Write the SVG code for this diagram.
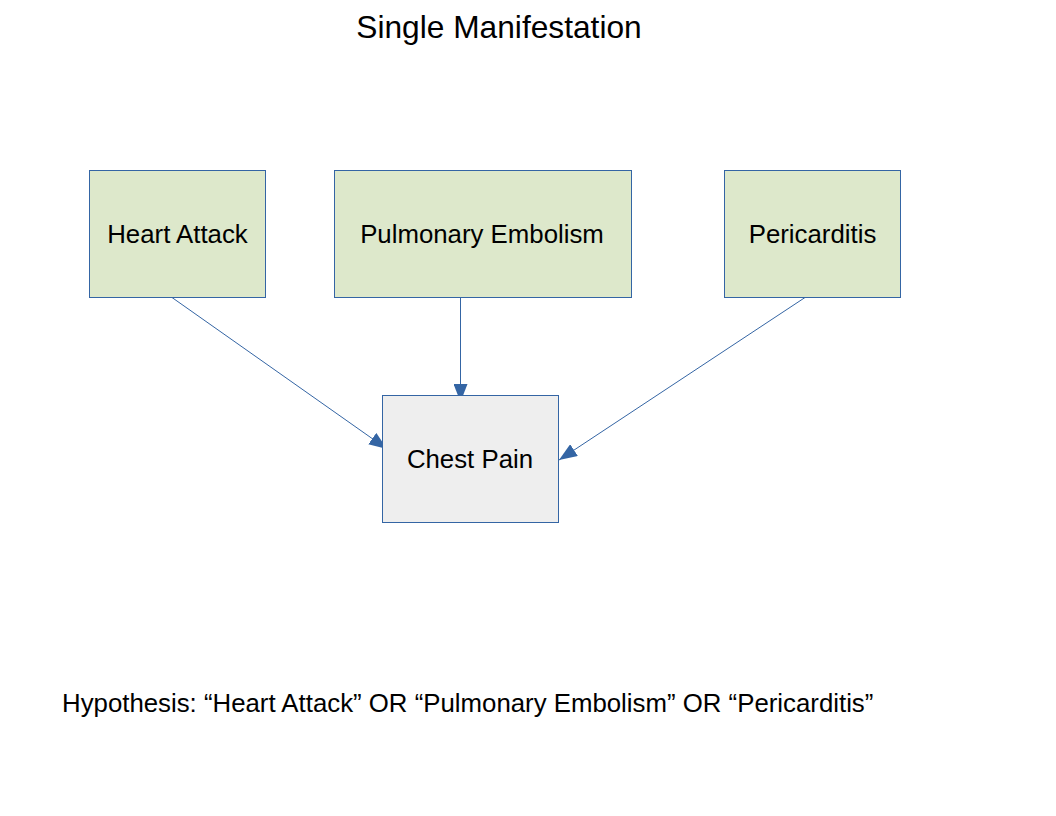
<svg xmlns="http://www.w3.org/2000/svg" width="1056" height="816" viewBox="0 0 1056 816">
<style>
text { font-family: "Liberation Sans", Arial, sans-serif; fill: #000; }
.node { stroke: #3465a4; stroke-width: 1; }
.cause { fill: #dde8cb; }
.effect { fill: #eeeeee; }
.lbl { font-size: 25.8px; text-anchor: middle; }
.conn { stroke: #3465a4; stroke-width: 1; fill: none; marker-end: url(#arr); }
</style>
<defs>
<marker id="arr" markerUnits="userSpaceOnUse" markerWidth="19" markerHeight="14" refX="18" refY="7" orient="auto">
<path d="M0,0 L18,7 L0,14 Z" fill="#3465a4"/>
</marker>
</defs>
<rect width="1056" height="816" fill="#ffffff"/>
<text x="499" y="38" font-size="31.7" text-anchor="middle">Single Manifestation</text>
<g id="connectors">
<line class="conn" x1="172" y1="297.5" x2="387" y2="449"/>
<line class="conn" x1="460.5" y1="297.5" x2="460.5" y2="402"/>
<line class="conn" x1="805" y1="297.5" x2="559" y2="460"/>
</g>
<g id="heart-attack">
<rect class="node cause" x="89.5" y="170.5" width="176" height="127"/>
<text class="lbl" x="177.5" y="243">Heart Attack</text>
</g>
<g id="pulmonary-embolism">
<rect class="node cause" x="334.5" y="170.5" width="297" height="127"/>
<text class="lbl" x="482" y="243">Pulmonary Embolism</text>
</g>
<g id="pericarditis">
<rect class="node cause" x="724.5" y="170.5" width="176" height="127"/>
<text class="lbl" x="812.5" y="243">Pericarditis</text>
</g>
<g id="chest-pain">
<rect class="node effect" x="382.5" y="395.5" width="176" height="127"/>
<text class="lbl" x="470" y="468">Chest Pain</text>
</g>
<text x="62" y="712" font-size="25.8">Hypothesis: “Heart Attack” OR “Pulmonary Embolism” OR “Pericarditis”</text>
</svg>
